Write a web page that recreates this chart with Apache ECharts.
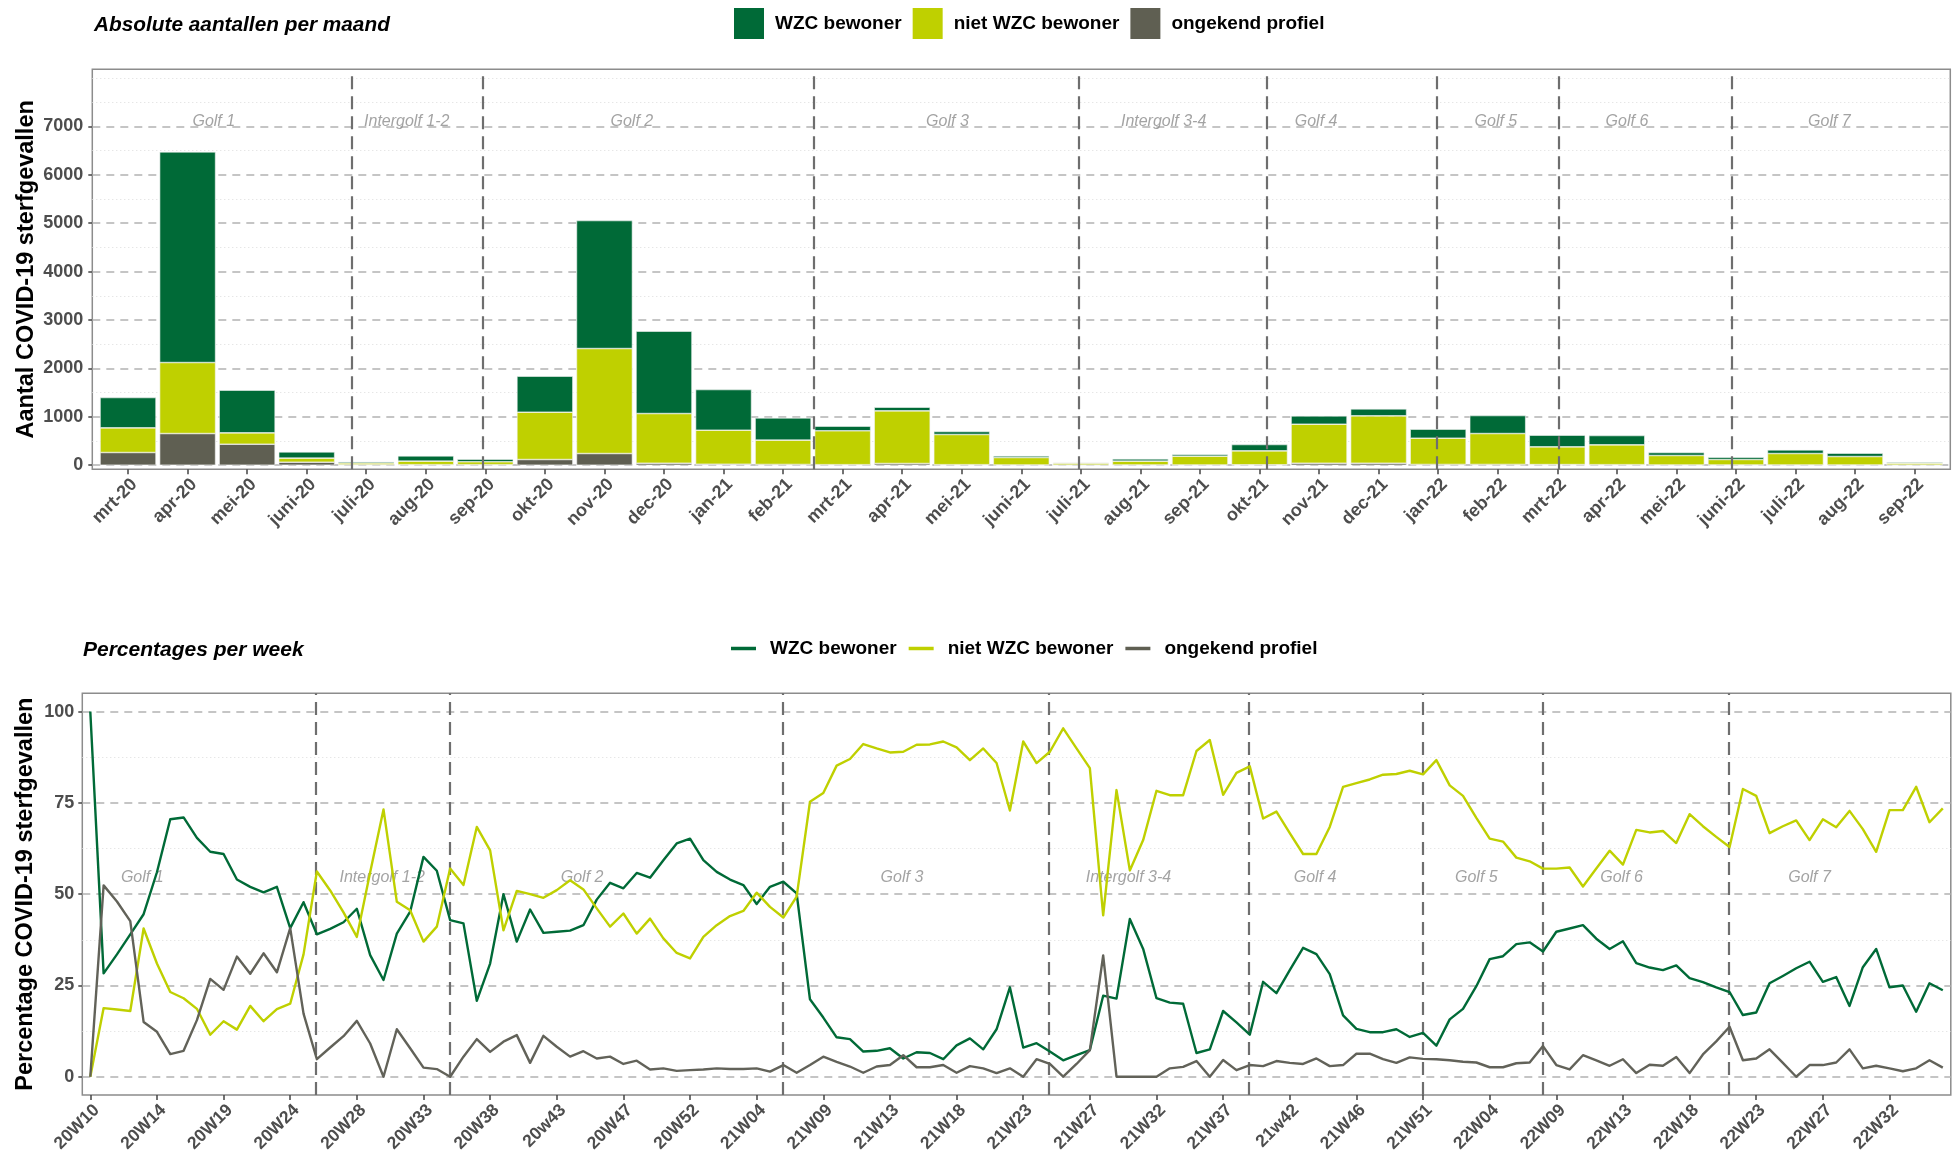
<!DOCTYPE html>
<html>
<head>
<meta charset="utf-8">
<script src="https://cdn.jsdelivr.net/npm/echarts@6/dist/echarts.min.js"></script>
<style>
  html, body { margin: 0; padding: 0; background: #ffffff; }
  #chart { width: 1953px; height: 1166px; }
</style>
</head>
<body>
<div id="chart"></div>
<script>
// ---------- monthly data (top chart) ----------
const monthLabels = ['mrt-20','apr-20','mei-20','juni-20','juli-20','aug-20','sep-20','okt-20','nov-20','dec-20',
  'jan-21','feb-21','mrt-21','apr-21','mei-21','juni-21','juli-21','aug-21','sep-21','okt-21','nov-21','dec-21',
  'jan-22','feb-22','mrt-22','apr-22','mei-22','juni-22','juli-22','aug-22','sep-22'];
const wzcMonth      = [627,4353,882,130,25,110,55,744,2645,1702,840,461,97,75,62,35,12,48,34,131,172,145,186,372,241,193,62,48,76,69,21];
const nietWzcMonth  = [509,1467,234,83,35,73,60,978,2169,1026,703,502,700,1088,624,153,40,78,181,288,806,978,543,639,367,410,195,112,236,174,38];
const onbekendMonth = [262,654,434,62,10,10,10,117,241,41,20,15,10,35,10,5,3,5,5,8,41,41,15,15,12,10,5,5,5,5,3];
const yTicksMonth = [0,1000,2000,3000,4000,5000,6000,7000];
const yMinorMonth = [500,1500,2500,3500,4500,5500,6500,7500,8000];

// ---------- weekly data (bottom chart) ----------
const weekTickLabels = ['20W10','20W14','20W19','20W24','20W28','20W33','20W38','20w43','20W47','20W52',
  '21W04','21W09','21W13','21W18','21W23','21W27','21W32','21W37','21w42','21W46','21W51',
  '22W04','22W09','22W13','22W18','22W23','22W27','22W32'];
const wzcWeek = [
  100,28.3,33.5,39,44.5,56,70.5,71,65.4,61.6,
  61,54,52,50.5,52,40.7,47.8,39,40.5,42.3,
  46,33.3,26.5,39.2,45.2,60.2,56.4,42.9,42,20.8,
  31,50,37,45.8,39.4,39.7,40,41.5,48.5,53.1,
  51.6,55.8,54.5,59.3,63.9,65.2,59.3,56.1,54,52.5,
  47.3,52,53.4,50.2,21.2,16.2,10.8,10.3,6.9,7.1,
  7.8,5,6.7,6.5,4.8,8.6,10.5,7.5,13,24.5,
  8,9.2,6.9,4.5,5.9,7.3,22.2,21.4,43.2,35,
  21.5,20.3,20,6.5,7.5,18,14.9,11.5,26,22.9,
  29.2,35.3,33.6,28.1,16.8,13.1,12.2,12.2,13,10.9,
  12,8.5,15.7,18.6,24.8,32.2,33,36.3,36.8,34.3,
  39.7,40.6,41.5,37.8,35,37.1,31.1,29.9,29.2,30.5,
  27,25.9,24.5,23.2,16.9,17.6,25.6,27.6,29.7,31.5,
  26,27.3,19.4,30,35,24.5,25,17.8,25.6,23.7];
const nietWzcWeek = [
  0,18.8,18.4,18,40.6,31,23.2,21.5,18.6,11.5,
  15.2,12.9,19.4,15.2,18.5,20,33.5,56.2,51,45,
  38.3,56,73.2,47.9,45.6,37,41.1,57,52.5,68.4,
  62,40.1,50.9,50,49,51.1,53.8,51.3,46.1,41.1,
  44.7,39.2,43.3,37.9,33.9,32.4,38.3,41.5,44,45.4,
  50.4,46.5,43.6,49.3,75.3,77.7,85.2,87,91.1,89.9,
  88.8,89,90.9,91,91.8,90.2,86.7,89.9,85.9,72.9,
  91.8,85.9,89,95.4,89.9,84.5,44.2,78.5,56.5,64.8,
  78.3,77.1,77.1,89.2,92.2,77.2,83.2,85,70.7,72.6,
  66.7,61,61,68.4,79.4,80.4,81.4,82.7,82.9,83.8,
  82.8,86.7,79.8,76.9,70.9,65.2,64.4,60,59,57,
  57,57.3,52.1,57,61.9,58.1,67.6,66.9,67.3,64,
  71.9,68.6,65.7,62.9,78.8,76.9,66.7,68.6,70.2,64.8,
  70.5,68.3,72.8,67.8,61.6,73,73,79.4,69.7,73.5];
const onbekendWeek = [
  0,52.4,48,42.6,15,12.3,6.2,7.1,15.5,26.8,
  23.8,32.9,28.2,33.8,28.6,40.7,17.3,4.8,8,11.1,
  15.3,9.1,0,13,7.8,2.5,2.1,0,5.5,10.3,
  6.8,9.6,11.4,3.8,11.2,8.2,5.5,7,5,5.5,
  3.5,4.4,2,2.3,1.6,1.8,2,2.3,2.1,2.1,
  2.3,1.4,3.2,1.1,3.2,5.5,4.1,2.8,1.1,2.8,
  3.2,5.9,2.6,2.6,3.2,1.1,2.9,2.3,1,2.3,
  0,4.8,3.5,0,3.5,7.3,33.2,0,0,0,
  0,2.3,2.7,4.3,0,4.6,1.8,3.2,2.9,4.3,
  3.8,3.5,5,2.9,3.2,6.3,6.3,4.8,3.8,5.3,
  4.9,4.8,4.5,4.1,3.9,2.6,2.6,3.7,3.9,8.4,
  3.2,2,5.9,4.5,3,4.8,1,3.3,3,5.4,
  1,6.1,9.7,13.7,4.5,5,7.5,3.8,0,3.2,
  3.2,3.9,7.5,2.3,3,2.3,1.5,2.3,4.5,2.5];
const yTicksWeek = [0,25,50,75,100];
const yMinorWeek = [12.5,37.5,62.5,87.5];

// ---------- waves ----------
const waveNames = ['Golf 1','Intergolf 1-2','Golf 2','Golf 3','Intergolf 3-4','Golf 4','Golf 5','Golf 6','Golf 7'];
const waveBoundsMonth = [3.75,5.95,11.52,15.97,19.13,21.98,24.03,26.93];
const waveLabelMonth  = [1.44,4.68,8.46,13.76,17.39,19.95,22.97,25.17,28.57];
const waveBoundsWeek  = [16.95,26.95,51.95,71.95,86.95,99.95,108.95,122.95];
const waveLabelWeek   = [3.9,21.9,36.9,60.9,77.9,91.9,104,114.9,129];

// ---------- styles / layout ----------
const C_WZC = '#006a37', C_NIET = '#bfd000', C_ONB = '#5f5f52';
const FONT = "'Liberation Sans', Arial, sans-serif";
const LBL = { color: '#4d4d4d', fontWeight: 'bold', fontSize: 18, fontFamily: FONT };

const TOP = { left: 92.3, top: 69.3, width: 1858, height: 400 };
const X_PAD = 0.6; // panel expansion in category units
const unitW = TOP.width / (monthLabels.length - 1 + 2 * X_PAD);
const BAR_GRID = { left: TOP.left + (X_PAD - 0.5) * unitW, top: TOP.top, width: unitW * monthLabels.length, height: TOP.height };
const Y_TOP = { min: -85, max: 8180 };

const monthIdx = monthLabels.map((_, i) => i);
const weekTickIdx = weekTickLabels.map((_, i) => i * 5);

function hLines(values, style, z) {
  return { silent: true, z: z, symbol: ['none','none'], label: { show: false },
    lineStyle: style, emphasis: { disabled: true }, data: values.map(v => ({ yAxis: v })) };
}
function vLines(values, style, z) {
  return { silent: true, z: z, symbol: ['none','none'], label: { show: false },
    lineStyle: style, emphasis: { disabled: true }, data: values.map(v => ({ xAxis: v })) };
}
const majorStyle = { color: '#b3b3b3', width: 1.5, type: [8, 6] };
const minorStyle = { color: '#dcdcdc', width: 1, type: [1, 3] };
const waveStyle  = { color: '#6e6e6e', width: 2.2, type: [13, 7] };
const barBorder = { borderColor: '#f4f4f4', borderWidth: 0.6 };

const chart = echarts.init(document.getElementById('chart'), null, { renderer: 'canvas' });

const option = {
  animation: false,
  backgroundColor: '#ffffff',
  title: [
    { text: 'Absolute aantallen per maand', left: 89, top: 10,
      textStyle: { fontSize: 20.8, fontWeight: 'bold', fontStyle: 'italic', color: '#000', fontFamily: FONT } },
    { text: 'Percentages per week', left: 78, top: 635,
      textStyle: { fontSize: 21, fontWeight: 'bold', fontStyle: 'italic', color: '#000', fontFamily: FONT } }
  ],
  legend: [
    { left: 729, top: 3, itemWidth: 30, itemHeight: 31, itemGap: 11,
      itemStyle: { borderWidth: 0 },
      textStyle: { fontSize: 19, fontWeight: 'bold', color: '#000', fontFamily: FONT, padding: [0,0,0,6] },
      data: [ { name: 'WZC bewoner', icon: 'rect' }, { name: 'niet WZC bewoner', icon: 'rect' }, { name: 'ongekend profiel', icon: 'rect' } ] },
    { left: 726, top: 634, itemWidth: 25, itemHeight: 3.5, itemGap: 12,
      itemStyle: { borderWidth: 0 },
      textStyle: { fontSize: 19, fontWeight: 'bold', color: '#000', fontFamily: FONT, padding: [0,0,0,9] },
      data: [ { name: 'WZC bewoner', icon: 'rect' }, { name: 'niet WZC bewoner', icon: 'rect' }, { name: 'ongekend profiel', icon: 'rect' } ] }
  ],
  grid: [
    { left: TOP.left, top: TOP.top, width: TOP.width, height: TOP.height, show: true, borderColor: '#8c8c8c', borderWidth: 1.5, backgroundColor: 'transparent' },
    { left: BAR_GRID.left, top: BAR_GRID.top, width: BAR_GRID.width, height: BAR_GRID.height, show: false },
    { left: 82.3, top: 693.3, width: 1868.5, height: 401.7, show: true, borderColor: '#8c8c8c', borderWidth: 1.5, backgroundColor: 'transparent' }
  ],
  xAxis: [
    { type: 'value', gridIndex: 0, min: -X_PAD, max: monthLabels.length - 1 + X_PAD, splitLine: { show: false },
      axisLine: { show: false, onZero: false },
      axisTick: { show: true, length: 5, customValues: monthIdx, lineStyle: { color: '#444', width: 1.5 } },
      axisLabel: { ...LBL, rotate: 45, margin: 6, verticalAlign: 'top', align: 'right', customValues: monthIdx, formatter: v => monthLabels[Math.round(v)] } },
    { type: 'category', gridIndex: 1, data: monthLabels, show: false, boundaryGap: true },
    { type: 'value', gridIndex: 2, min: -0.6, max: 139.6, splitLine: { show: false },
      axisLine: { show: false, onZero: false },
      axisTick: { show: true, length: 5, customValues: weekTickIdx, lineStyle: { color: '#444', width: 1.5 } },
      axisLabel: { ...LBL, fontSize: 17.5, rotate: 45, margin: 6, verticalAlign: 'top', align: 'right', customValues: weekTickIdx, formatter: v => weekTickLabels[Math.round(v / 5)] } }
  ],
  yAxis: [
    { type: 'value', gridIndex: 0, min: Y_TOP.min, max: Y_TOP.max, splitLine: { show: false },
      axisLine: { show: false, onZero: false },
      axisTick: { show: true, length: 4, customValues: yTicksMonth, lineStyle: { color: '#444', width: 1.5 } },
      axisLabel: { ...LBL, margin: 9, customValues: yTicksMonth, formatter: v => String(v) },
      name: 'Aantal COVID-19 sterfgevallen', nameLocation: 'middle', nameGap: 54, nameRotate: 90, nameMoveOverlap: false,
      nameTextStyle: { fontSize: 23.5, fontWeight: 'bold', color: '#000', fontFamily: FONT } },
    { type: 'value', gridIndex: 1, min: Y_TOP.min, max: Y_TOP.max, show: false, splitLine: { show: false } },
    { type: 'value', gridIndex: 2, min: -5, max: 105, splitLine: { show: false },
      axisLine: { show: false, onZero: false },
      axisTick: { show: true, length: 4, customValues: yTicksWeek, lineStyle: { color: '#444', width: 1.5 } },
      axisLabel: { ...LBL, margin: 8, customValues: yTicksWeek, formatter: v => String(v) },
      name: 'Percentage COVID-19 sterfgevallen', nameLocation: 'middle', nameGap: 45, nameRotate: 90, nameMoveOverlap: false,
      nameTextStyle: { fontSize: 23.5, fontWeight: 'bold', color: '#000', fontFamily: FONT } }
  ],
  series: [
    // top grid lines
    { type: 'line', name: '_gridTop', xAxisIndex: 0, yAxisIndex: 0, data: [], silent: true,
      markLine: hLines(yTicksMonth, majorStyle, 1) },
    { type: 'line', name: '_gridTopMinor', xAxisIndex: 0, yAxisIndex: 0, data: [], silent: true,
      markLine: hLines(yMinorMonth, minorStyle, 1) },
    // stacked bars
    { type: 'bar', name: 'ongekend profiel', xAxisIndex: 1, yAxisIndex: 1, stack: 'm', barWidth: '94%', z: 2,
      itemStyle: { color: C_ONB, ...barBorder }, data: onbekendMonth },
    { type: 'bar', name: 'niet WZC bewoner', xAxisIndex: 1, yAxisIndex: 1, stack: 'm', barWidth: '94%', z: 2,
      itemStyle: { color: C_NIET, ...barBorder }, data: nietWzcMonth },
    { type: 'bar', name: 'WZC bewoner', xAxisIndex: 1, yAxisIndex: 1, stack: 'm', barWidth: '94%', z: 2,
      itemStyle: { color: C_WZC, ...barBorder }, data: wzcMonth },
    // top waves
    { type: 'line', name: '_waveTop', xAxisIndex: 0, yAxisIndex: 0, data: [], silent: true,
      markLine: vLines(waveBoundsMonth, waveStyle, 6) },
    { type: 'scatter', name: '_waveTopLbl', xAxisIndex: 0, yAxisIndex: 0, symbolSize: 0, silent: true, z: 7,
      label: { show: true, position: 'inside', offset: [0, -5], formatter: '{b}', color: '#8c8c8c', fontStyle: 'italic', fontSize: 16, fontFamily: FONT },
      data: waveNames.map((n, i) => ({ name: n, value: [waveLabelMonth[i], 7000] })) },

    // bottom grid lines
    { type: 'line', name: '_gridBot', xAxisIndex: 2, yAxisIndex: 2, data: [], silent: true,
      markLine: hLines(yTicksWeek, majorStyle, 1) },
    { type: 'line', name: '_gridBotMinor', xAxisIndex: 2, yAxisIndex: 2, data: [], silent: true,
      markLine: hLines(yMinorWeek, minorStyle, 1) },
    { type: 'line', name: '_waveBot', xAxisIndex: 2, yAxisIndex: 2, data: [], silent: true,
      markLine: vLines(waveBoundsWeek, waveStyle, 1) },
    { type: 'scatter', name: '_waveBotLbl', xAxisIndex: 2, yAxisIndex: 2, symbolSize: 0, silent: true, z: 1,
      label: { show: true, position: 'inside', formatter: '{b}', color: '#8c8c8c', fontStyle: 'italic', fontSize: 16, fontFamily: FONT },
      data: waveNames.map((n, i) => ({ name: n, value: [waveLabelWeek[i], 54.5] })) },
    // lines
    { type: 'line', name: 'WZC bewoner', xAxisIndex: 2, yAxisIndex: 2, showSymbol: false, z: 3,
      color: C_WZC, lineStyle: { color: C_WZC, width: 2.4, join: 'round' },
      data: wzcWeek.map((v, i) => [i, v]) },
    { type: 'line', name: 'niet WZC bewoner', xAxisIndex: 2, yAxisIndex: 2, showSymbol: false, z: 3,
      color: C_NIET, lineStyle: { color: C_NIET, width: 2.4, join: 'round' },
      data: nietWzcWeek.map((v, i) => [i, v]) },
    { type: 'line', name: 'ongekend profiel', xAxisIndex: 2, yAxisIndex: 2, showSymbol: false, z: 3,
      color: C_ONB, lineStyle: { color: '#626259', width: 2.4, join: 'round' },
      data: onbekendWeek.map((v, i) => [i, v]) }
  ]
};
chart.setOption(option);
</script>
</body>
</html>
